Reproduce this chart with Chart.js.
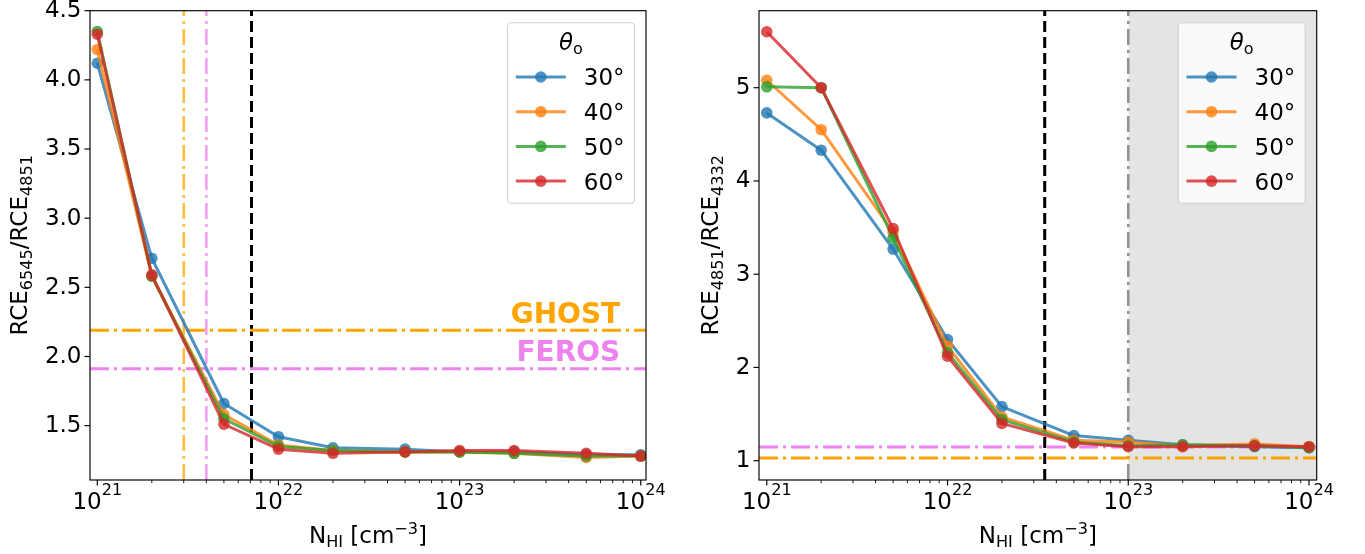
<!DOCTYPE html>
<html><head><meta charset="utf-8">
<script src="https://cdn.jsdelivr.net/npm/chart.js@4.4.1/dist/chart.umd.min.js"></script>
<style>
html,body{margin:0;padding:0;background:#fff;}
body{width:1365px;height:554px;position:relative;overflow:hidden;}
canvas{position:absolute;top:0;}
#c1{left:0;} #c2{left:690px;}
</style></head><body>
<canvas id="c1" width="690" height="554"></canvas>
<canvas id="c2" width="675" height="554"></canvas>
<script>
// ---------------- data ----------------
const nHI = [1e21, 2e21, 5e21, 1e22, 2e22, 5e22, 1e23, 2e23, 5e23, 1e24];
const angleLabels = ['30°', '40°', '50°', '60°'];
const seriesColors = ['rgba(31,119,180,0.8)', 'rgba(255,127,14,0.8)', 'rgba(44,160,44,0.8)', 'rgba(214,39,40,0.8)'];

// left panel: RCE6545 / RCE4851
const left30 = [4.12, 2.71, 1.66, 1.42, 1.34, 1.33, 1.31, 1.31, 1.29, 1.29];
const left40 = [4.22, 2.58, 1.58, 1.36, 1.32, 1.31, 1.31, 1.30, 1.27, 1.28];
const left50 = [4.35, 2.58, 1.55, 1.35, 1.32, 1.31, 1.31, 1.30, 1.28, 1.28];
const left60 = [4.33, 2.59, 1.51, 1.33, 1.30, 1.31, 1.32, 1.32, 1.30, 1.28];

// right panel: RCE4851 / RCE4332
const right30 = [4.73, 4.33, 3.27, 2.30, 1.58, 1.27, 1.22, 1.17, 1.15, 1.14];
const right40 = [5.08, 4.55, 3.45, 2.23, 1.47, 1.22, 1.20, 1.16, 1.18, 1.15];
const right50 = [5.01, 5.00, 3.39, 2.16, 1.44, 1.20, 1.16, 1.17, 1.16, 1.14];
const right60 = [5.60, 5.00, 3.49, 2.12, 1.40, 1.19, 1.15, 1.15, 1.16, 1.15];

// reference lines
const leftHLines = [{y: 2.19, color: 'orange'}, {y: 1.912, color: 'violet'}];
const leftVLines = [{x: 3e21, color: 'rgba(255,165,0,0.75)'}, {x: 4e21, color: 'rgba(238,130,238,0.75)'}];
const leftLimitX = 7.1e21;
const rightHLines = [{y: 1.147, color: 'violet'}, {y: 1.029, color: 'orange'}];
const rightLimitX = 3.45e22;
const rightShadeFrom = 1e23;

// ticks
const xMajorTicks = [1e21, 1e22, 1e23, 1e24];
const xMajorExp = ['21', '22', '23', '24'];
const leftYTicks = [1.5, 2.0, 2.5, 3.0, 3.5, 4.0, 4.5];
const leftYLabels = ['1.5', '2.0', '2.5', '3.0', '3.5', '4.0', '4.5'];
const rightYTicks = [1, 2, 3, 4, 5];
const rightYLabels = ['1', '2', '3', '4', '5'];

// axis ranges
const leftX = [Math.pow(10, 20.9597), Math.pow(10, 24.029)];
const leftY = [1.107, 4.5];
const rightX = [Math.pow(10, 20.957), Math.pow(10, 24.0426)];
const rightY = [0.793, 5.826];

// ---------------- helpers ----------------
const FONT = '"DejaVu Sans"';
const FS = 23;
function font(size, opts) { return (opts || '') + ' ' + size + 'px ' + FONT; }

function drawRich(ctx, parts, x, y, align) {
  let w = 0;
  parts.forEach(p => { ctx.font = font(p.size, p.style); p.w = ctx.measureText(p.t).width; w += p.w; });
  let cx = align === 'center' ? x - w / 2 : (align === 'right' ? x - w : x);
  ctx.textAlign = 'left'; ctx.textBaseline = 'alphabetic';
  parts.forEach(p => { ctx.font = font(p.size, p.style); ctx.fillText(p.t, cx, y + (p.dy || 0)); cx += p.w; });
}

function seriesSets(arrs) {
  return arrs.map((a, i) => ({
    label: angleLabels[i],
    data: nHI.map((x, j) => ({x: x, y: a[j]})),
    borderColor: seriesColors[i], backgroundColor: seriesColors[i],
    pointBackgroundColor: seriesColors[i], pointBorderWidth: 0, pointRadius: 5.8,
    borderWidth: 3, borderJoinStyle: 'round', order: 4 - i, tension: 0, fill: false
  }));
}
function hLine(y, color, dash, width, xr, order) {
  return {data: [{x: xr[0], y: y}, {x: xr[1], y: y}], borderColor: color, borderDash: dash,
    borderWidth: width, pointRadius: 0, order: order, fill: false};
}
function vLine(x, color, dash, width, yr, order) {
  return {data: [{x: x, y: yr[0]}, {x: x, y: yr[1]}], borderColor: color, borderDash: dash,
    borderWidth: width, pointRadius: 0, order: order, fill: false};
}

function decorPlugin(cfg) {
  return {
    id: 'decor',
    afterDraw(chart) {
      const ctx = chart.ctx, ca = chart.chartArea, xs = chart.scales.x, ys = chart.scales.y;
      ctx.save();
      ctx.fillStyle = '#000'; ctx.strokeStyle = '#000';
      // extra texts
      (cfg.texts || []).forEach(t => {
        ctx.fillStyle = t.color; ctx.font = font(28, 'bold');
        ctx.textAlign = 'right'; ctx.textBaseline = 'alphabetic';
        ctx.fillText(t.t, xs.getPixelForValue(t.x), ys.getPixelForValue(t.y));
      });
      ctx.fillStyle = '#000';
      // frame
      ctx.lineWidth = 1.15;
      ctx.strokeRect(ca.left, ca.top, ca.right - ca.left, ca.bottom - ca.top);
      // y ticks
      ctx.lineWidth = 1.15;
      cfg.yTicks.forEach((v, i) => {
        const y = ys.getPixelForValue(v);
        ctx.beginPath(); ctx.moveTo(ca.left, y); ctx.lineTo(ca.left - 5.5, y); ctx.stroke();
        ctx.font = font(FS); ctx.textAlign = 'right'; ctx.textBaseline = 'middle';
        ctx.fillText(cfg.yLabels[i], ca.left - 8.5, y + 0.5);
      });
      // x minor ticks
      ctx.lineWidth = 0.9;
      for (let n = 20; n <= 24; n++) {
        for (let k = 2; k <= 9; k++) {
          const v = k * Math.pow(10, n);
          if (v < xs.min || v > xs.max) continue;
          const x = xs.getPixelForValue(v);
          ctx.beginPath(); ctx.moveTo(x, ca.bottom); ctx.lineTo(x, ca.bottom + 3.2); ctx.stroke();
        }
      }
      // x major ticks + labels
      ctx.lineWidth = 1.15;
      xMajorTicks.forEach((v, i) => {
        const x = xs.getPixelForValue(v);
        ctx.beginPath(); ctx.moveTo(x, ca.bottom); ctx.lineTo(x, ca.bottom + 5.5); ctx.stroke();
        drawRich(ctx, [{t: '10', size: FS}, {t: xMajorExp[i], size: 16.1, dy: -14.5}], x, ca.bottom + 29.3, 'center');
      });
      // x title
      drawRich(ctx, [{t: 'N', size: FS}, {t: 'HI', size: 16.1, dy: 4}, {t: ' [cm', size: FS},
        {t: '\u22123', size: 16.1, dy: -9}, {t: ']', size: FS}], (ca.left + ca.right) / 2, ca.bottom + 63.3, 'center');
      // y title
      ctx.save();
      ctx.translate(cfg.yTitleX, (ca.top + ca.bottom) / 2);
      ctx.rotate(-Math.PI / 2);
      drawRich(ctx, cfg.yTitle, 0, 0, 'center');
      ctx.restore();
      // legend
      const bw = 127, bh = 180.6;
      const bx = ca.right - 11.5 - bw, by = ca.top + 12;
      ctx.beginPath();
      ctx.roundRect(bx, by, bw, bh, 4);
      ctx.fillStyle = 'rgba(255,255,255,0.8)'; ctx.fill();
      ctx.strokeStyle = '#d0d0d0'; ctx.lineWidth = 1.1; ctx.stroke();
      ctx.fillStyle = '#000';
      drawRich(ctx, [{t: '\u03B8', size: FS, style: 'italic'}, {t: 'o', size: 16.1, dy: 4}], bx + bw / 2, by + 27.5, 'center');
      angleLabels.forEach((lab, i) => {
        const yy = by + 54.3 + i * 34.7;
        ctx.strokeStyle = seriesColors[i]; ctx.lineWidth = 3;
        ctx.beginPath(); ctx.moveTo(bx + 8.3, yy); ctx.lineTo(bx + 58.3, yy); ctx.stroke();
        ctx.fillStyle = seriesColors[i];
        ctx.beginPath(); ctx.arc(bx + 33.3, yy, 5.8, 0, Math.PI * 2); ctx.fill();
        ctx.fillStyle = '#000'; ctx.font = font(FS); ctx.textAlign = 'left'; ctx.textBaseline = 'alphabetic';
        ctx.fillText(lab, bx + 76.3, yy + 8.4);
      });
      ctx.restore();
    }
  };
}

function baseOptions(xr, yr, pad) {
  return {
    responsive: false, animation: false, events: [],
    layout: {padding: pad},
    plugins: {legend: {display: false}, tooltip: {enabled: false}},
    scales: {
      x: {type: 'logarithmic', min: xr[0], max: xr[1], display: false, bounds: 'data'},
      y: {type: 'linear', min: yr[0], max: yr[1], display: false}
    }
  };
}

// ---------------- left chart ----------------
const dashDotH = [19, 5, 3, 5];
const dashDotV = [16, 5, 3, 5];
const leftSets = seriesSets([left30, left40, left50, left60]);
leftHLines.forEach(h => leftSets.push(hLine(h.y, h.color, dashDotH, 3, leftX, 10)));
leftVLines.forEach(v => leftSets.push(vLine(v.x, v.color, dashDotV, 2.6, leftY, 10)));
leftSets.push(vLine(leftLimitX, '#000', [11, 5], 3, leftY, 11));

new Chart(document.getElementById('c1'), {
  type: 'line',
  data: {datasets: leftSets},
  options: baseOptions(leftX, leftY, {left: 90, right: 44, top: 10.7, bottom: 74}),
  plugins: [decorPlugin({
    yTicks: leftYTicks, yLabels: leftYLabels, yTitleX: 27,
    yTitle: [{t: 'RCE', size: FS}, {t: '6545', size: 16.1, dy: 4.5}, {t: '/RCE', size: FS}, {t: '4851', size: 16.1, dy: 4.5}],
    texts: [{t: 'GHOST', color: 'orange', x: 7.7e23, y: 2.24}, {t: 'FEROS', color: 'violet', x: 7.7e23, y: 1.97}]
  })]
});

// ---------------- right chart ----------------
const rightSets = seriesSets([right30, right40, right50, right60]);
rightSets.push({data: [{x: rightShadeFrom, y: rightY[1]}, {x: rightX[1], y: rightY[1]}],
  borderWidth: 0, pointRadius: 0, fill: 'start', backgroundColor: 'rgba(128,128,128,0.21)', order: 20});
rightHLines.forEach(h => rightSets.push(hLine(h.y, h.color, dashDotH, 3, rightX, 10)));
rightSets.push(vLine(rightShadeFrom, 'rgba(128,128,128,0.85)', dashDotV, 2.6, rightY, 12));
rightSets.push(vLine(rightLimitX, '#000', [11, 5], 3, rightY, 11));

new Chart(document.getElementById('c2'), {
  type: 'line',
  data: {datasets: rightSets},
  options: baseOptions(rightX, rightY, {left: 69, right: 48.3, top: 10.7, bottom: 74}),
  plugins: [decorPlugin({
    yTicks: rightYTicks, yLabels: rightYLabels, yTitleX: 28,
    yTitle: [{t: 'RCE', size: FS}, {t: '4851', size: 16.1, dy: 4.5}, {t: '/RCE', size: FS}, {t: '4332', size: 16.1, dy: 4.5}]
  })]
});
</script>
</body></html>
